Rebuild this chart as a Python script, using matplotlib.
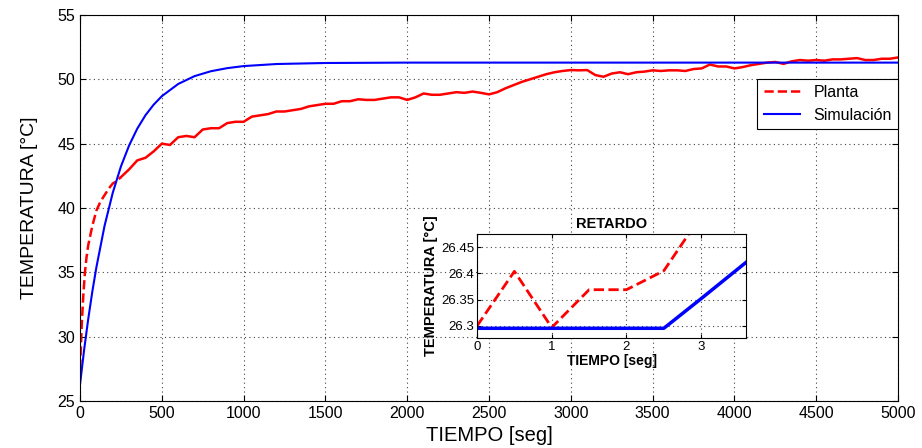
import matplotlib
matplotlib.use('Agg')
import matplotlib.pyplot as plt

plt.rcParams['font.family'] = ['Liberation Sans', 'DejaVu Sans']

# Planta (measured), early dense part drawn dashed
t_early = [0, 5, 10, 20, 30, 40, 50, 75, 100, 125, 150, 175, 200, 225, 250]
v_early = [27.5, 29.0, 30.8, 33.2, 35.0, 36.2, 37.1, 38.6, 39.8, 40.5, 41.0,
           41.5, 41.9, 42.1, 42.4]

t_plant = list(range(250, 5001, 50))
v_plant = [42.4, 43.0, 43.7, 43.9, 44.4, 45.0, 44.9, 45.5, 45.6, 45.5,      # 250-700
           46.1, 46.2, 46.2, 46.6, 46.7, 46.7, 47.1, 47.2, 47.3, 47.5,      # 750-1200
           47.5, 47.6, 47.7, 47.9, 48.0, 48.1, 48.1, 48.3, 48.3, 48.45,     # 1250-1700
           48.4, 48.4, 48.5, 48.6, 48.6, 48.4, 48.6, 48.9, 48.8, 48.8,      # 1750-2200
           48.9, 49.0, 48.95, 49.05, 48.95, 48.83, 49.0, 49.3, 49.55, 49.8, # 2250-2700
           50.0, 50.2, 50.4, 50.55, 50.65, 50.72, 50.7, 50.72, 50.33, 50.2, # 2750-3200
           50.45, 50.55, 50.4, 50.55, 50.6, 50.7, 50.65, 50.7, 50.7, 50.65, # 3250-3700
           50.8, 50.85, 51.15, 51.0, 51.0, 50.85, 50.95, 51.1, 51.2, 51.3,  # 3750-4200
           51.35, 51.2, 51.4, 51.5, 51.45, 51.5, 51.45, 51.55, 51.55, 51.6, # 4250-4700
           51.65, 51.5, 51.5, 51.6, 51.6, 51.7]                             # 4750-5000

# Simulacion
t_sim = [0, 25, 50, 75, 100, 150, 200, 250, 300, 350, 400, 450, 500, 600,
         700, 800, 900, 1000, 1200, 1500, 2000, 5000]
v_sim = [26.3, 28.97, 31.36, 33.49, 35.39, 38.62, 41.18, 43.23, 44.86, 46.17,
         47.21, 48.03, 48.69, 49.64, 50.25, 50.63, 50.87, 51.03, 51.19, 51.27,
         51.3, 51.3]

# inset "RETARDO"
t_ret_plant = [0, 0.5, 1.0, 1.5, 2.0, 2.5, 3.0]
v_ret_plant = [26.3, 26.404, 26.297, 26.369, 26.369, 26.405, 26.51]
t_ret_sim = [0, 2.5, 3.0, 3.6]
v_ret_sim = [26.2955, 26.2955, 26.352, 26.421]

grid_style = dict(linestyle=(0, (1, 3)), color='#444444', lw=0.8)

fig = plt.figure(figsize=(9.22, 4.48), dpi=100)
ax = fig.add_axes([0.0868, 0.105, 0.8872, 0.8615])

ax.plot(t_early, v_early, 'r--', lw=1.8, label='Planta')
ax.plot(t_plant, v_plant, 'r-', lw=1.8)
ax.plot(t_sim, v_sim, color='#0000ff', lw=1.5, label='Simulación')

ax.set_xlim(0, 5000)
ax.set_ylim(25, 55)
ax.set_xticks(range(0, 5001, 500))
ax.set_yticks(range(25, 56, 5))
ax.tick_params(direction='in', labelsize=11.5, top=True, right=True, length=4)
ax.grid(True, **grid_style)
ax.set_xlabel('TIEMPO [seg]', fontsize=14.5, labelpad=4)
ax.set_ylabel('TEMPERATURA [°C]', fontsize=14, labelpad=14)

leg = ax.legend(loc='upper right', bbox_to_anchor=(1.0, 0.835), borderaxespad=0.0,
                fancybox=False, edgecolor='black', fontsize=11.5,
                handlelength=2.3, framealpha=1)
leg.get_frame().set_linewidth(0.8)

ins = fig.add_axes([0.5174, 0.2455, 0.2917, 0.2321])
ins.plot(t_ret_plant, v_ret_plant, 'r--', lw=2)
ins.plot(t_ret_sim, v_ret_sim, color='#0000ff', lw=2.5)
ins.set_xlim(0, 3.6)
ins.set_ylim(26.277, 26.475)
ins.set_xticks([0, 1, 2, 3])
ins.set_yticks([26.3, 26.35, 26.4, 26.45])
ins.set_yticklabels(['26.3', '26.35', '26.4', '26.45'])
ins.tick_params(direction='in', labelsize=9.5, top=True, right=True, length=3, pad=2)
ins.grid(True, **grid_style)
ins.set_title('RETARDO', fontsize=10.5, fontweight='bold', pad=4)
ins.set_xlabel('TIEMPO [seg]', fontsize=10, fontweight='bold', labelpad=1)
ins.set_ylabel('TEMPERATURA [°C]', fontsize=10.5, fontweight='bold', labelpad=2)

fig.savefig('out.png', dpi=100)
